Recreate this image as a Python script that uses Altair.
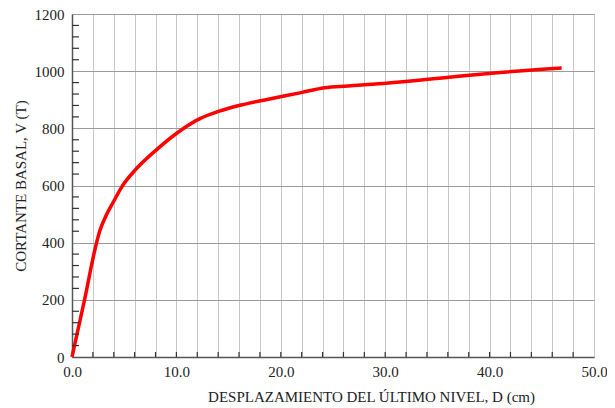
import altair as alt
import pandas as pd

disp = [0, 1.2, 2.3, 2.65, 3.2, 4.0, 4.8, 6.0, 8.0, 10.0, 12.2, 14.1, 16.0, 18.8, 21.95, 24.2, 26.4, 30.1, 36.1, 40.2, 46.9]
shear = [0, 200, 392, 440, 490, 545, 597, 652, 722, 782, 833, 860, 880, 902, 925, 942, 948, 958, 979, 993, 1011]

x_grid = list(range(0, 51, 2))
y_major = list(range(0, 1201, 200))
y_minor = [v for v in range(0, 1201, 40) if v % 200 != 0]
x_ticks = list(range(2, 50, 2))

df = pd.DataFrame({"D": disp, "V": shear})
FONT = "Liberation Serif"
W, H = 522, 343

xs = alt.Scale(domain=[0, 50], nice=False, zero=False)
ys = alt.Scale(domain=[0, 1200], nice=False, zero=False)

x_axis = alt.Axis(
    values=x_grid,
    labelExpr="(datum.value % 10 == 0) ? format(datum.value, '.1f') : ''",
    labelOverlap=False, labelBound=False,
    title="DESPLAZAMIENTO DEL ÚLTIMO NIVEL, D (cm)",
    grid=True, gridColor="#c8c8c8", gridWidth=1,
    ticks=False, domainColor="#555555", domainWidth=1.5,
    labelFont=FONT, labelFontSize=15, labelColor="#222222", labelPadding=7,
    titleFont=FONT, titleFontSize=15, titleFontWeight="normal", titleColor="#222222",
    titleX=299, titleY=44, titleAlign="center", titleBaseline="alphabetic", labelFlush=False,
)
y_axis = alt.Axis(
    values=y_major, format="d", labelOverlap=False,
    title="CORTANTE BASAL, V (T)",
    grid=True, gridColor="#9a9a9a", gridWidth=1,
    ticks=False, domainColor="#555555", domainWidth=1.5,
    labelFont=FONT, labelFontSize=15, labelColor="#222222", labelPadding=8,
    titleFont=FONT, titleFontSize=15, titleFontWeight="normal", titleColor="#222222",
    titlePadding=6, labelFlush=False,
)

line = alt.Chart(df).mark_line(color="#ff0000", strokeWidth=3.5, interpolate="monotone").encode(
    x=alt.X("D:Q", scale=xs, axis=x_axis),
    y=alt.Y("V:Q", scale=ys, axis=y_axis),
)

ytick_df = pd.DataFrame({"V": y_minor})
yticks = alt.Chart(ytick_df).mark_rule(color="#333333", strokeWidth=1.2).encode(
    y=alt.Y("V:Q", scale=ys, axis=y_axis),
    x=alt.value(0), x2=alt.value(7),
)

xtick_df = pd.DataFrame({"D": x_ticks})
xticks = alt.Chart(xtick_df).mark_rule(color="#333333", strokeWidth=1.2).encode(
    x=alt.X("D:Q", scale=xs, axis=x_axis),
    y=alt.value(H), y2=alt.value(H - 5),
)

chart = alt.layer(line, xticks, yticks).properties(
    width=W, height=H,
    autosize=alt.AutoSizeParams(type="none"),
    padding={"left": 64, "top": 6, "right": 13, "bottom": 50},
).configure_view(stroke="#888888", strokeWidth=1.2).configure(background="white")

chart.save("out.html", embed_options={"renderer": "svg", "actions": False})
